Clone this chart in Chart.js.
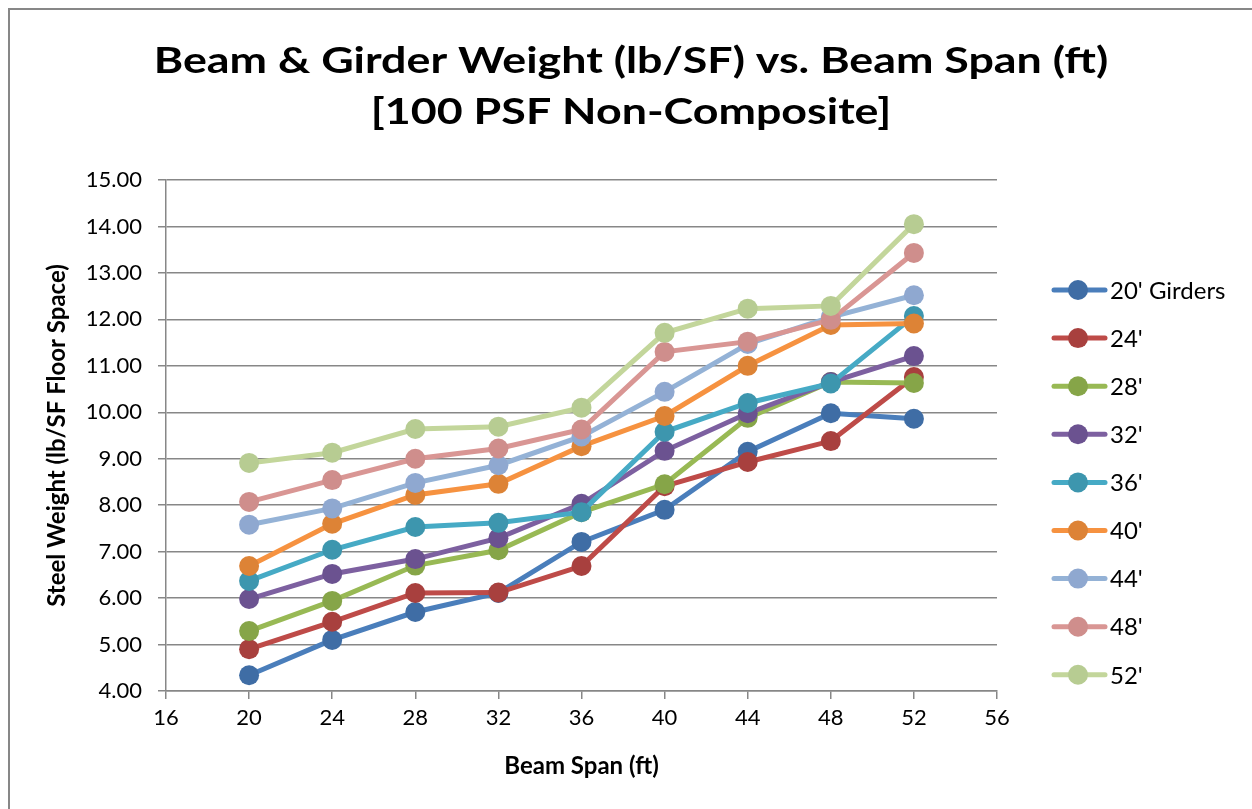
<!DOCTYPE html>
<html>
<head>
<meta charset="utf-8">
<script src="https://cdn.jsdelivr.net/npm/chart.js@4/dist/chart.umd.min.js"></script>
<style>
  html, body { margin: 0; padding: 0; background: #fff; }
  #wrap { position: relative; width: 1252px; height: 809px; }
</style>
</head>
<body>
<div id="wrap"><canvas id="grafico"></canvas></div>
<script>
// ---------- DADOS ----------
const vaos = [20, 24, 28, 32, 36, 40, 44, 48, 52];
const rotulos = ["20' Girders", "24'", "28'", "32'", "36'", "40'", "44'", "48'", "52'"];

const viga20 = [4.34, 5.10, 5.70, 6.11, 7.21, 7.90, 9.15, 9.98, 9.86];
const viga24 = [4.90, 5.49, 6.11, 6.12, 6.69, 8.41, 8.93, 9.38, 10.76];
const viga28 = [5.29, 5.94, 6.70, 7.03, 7.85, 8.45, 9.88, 10.65, 10.63];
const viga32 = [5.98, 6.52, 6.84, 7.29, 8.03, 9.17, 9.98, 10.65, 11.21];
const viga36 = [6.37, 7.04, 7.53, 7.62, 7.85, 9.58, 10.20, 10.62, 12.07];
const viga40 = [6.69, 7.60, 8.22, 8.46, 9.27, 9.92, 11.00, 11.88, 11.91];
const viga44 = [7.58, 7.93, 8.48, 8.86, 9.48, 10.44, 11.47, 12.05, 12.52];
const viga48 = [8.07, 8.54, 9.00, 9.22, 9.63, 11.30, 11.52, 11.99, 13.43];
const viga52 = [8.91, 9.13, 9.64, 9.69, 10.10, 11.71, 12.23, 12.29, 14.05];

const series = [viga20, viga24, viga28, viga32, viga36, viga40, viga44, viga48, viga52];

// cor da linha / cor do marcador
const coresLinha = ["#4A7EBB", "#BE4B48", "#98B954", "#7D60A0", "#46AAC5", "#F69240", "#94B2D6", "#D99694", "#C3D69B"];
const coresPonto = ["#3F6DA5", "#A8403E", "#86A548", "#6B5290", "#3D96AE", "#DD8336", "#8FA8D0", "#CF8E8C", "#B7CC92"];

const CINZA = "#878787";
const FONTE = "Lato, 'Open Sans', sans-serif";

// ---------- DATASETS ----------
const datasets = series.map((valores, i) => ({
  label: rotulos[i],
  data: vaos.map((x, j) => ({ x: x, y: valores[j] })),
  borderColor: coresLinha[i],
  backgroundColor: coresPonto[i],
  pointBackgroundColor: coresPonto[i],
  pointBorderColor: coresPonto[i],
  borderWidth: 5,
  pointRadius: 10,
  pointBorderWidth: 0,
  tension: 0,
  order: series.length - i // ultima serie fica por cima
}));

// ---------- TITULO, MOLDURA E LEGENDA ----------
const extras = {
  id: "extras",
  afterDraw(chart) {
    const ctx = chart.ctx;
    ctx.save();

    // moldura da area do grafico
    ctx.strokeStyle = CINZA;
    ctx.lineWidth = 2;
    ctx.beginPath();
    ctx.moveTo(9, 809);
    ctx.lineTo(9, 9);
    ctx.lineTo(1252, 9);
    ctx.stroke();

    // titulo (um pouco esticado na horizontal)
    ctx.save();
    ctx.translate(631, 0);
    ctx.scale(1.21, 1);
    ctx.fillStyle = "#000";
    ctx.textAlign = "center";
    ctx.textBaseline = "alphabetic";
    ctx.font = "bold 37px " + FONTE;
    ctx.fillText("Beam & Girder Weight (lb/SF) vs. Beam Span (ft)", 0, 73);
    ctx.fillText("[100 PSF Non-Composite]", 0, 124);
    ctx.restore();

    // legenda
    ctx.textAlign = "left";
    ctx.textBaseline = "middle";
    ctx.font = "24px " + FONTE;
    chart.data.datasets.forEach((ds, i) => {
      const y = 290 + i * 48.1;
      ctx.strokeStyle = ds.borderColor;
      ctx.lineWidth = 5;
      ctx.lineCap = "round";
      ctx.beginPath();
      ctx.moveTo(1054, y);
      ctx.lineTo(1105, y);
      ctx.stroke();
      ctx.fillStyle = ds.pointBackgroundColor;
      ctx.beginPath();
      ctx.arc(1078, y, 10, 0, Math.PI * 2);
      ctx.fill();
      ctx.fillStyle = "#000";
      ctx.fillText(ds.label, 1110, y + 1);
    });

    ctx.restore();
  }
};

// ---------- GRAFICO ----------
const ctx = document.getElementById("grafico").getContext("2d");
window.grafico = new Chart(ctx, {
  type: "line",
  data: { datasets: datasets },
  plugins: [extras],
  options: {
    responsive: true,
    maintainAspectRatio: false,
    animation: false,
    layout: { padding: { top: 180, right: 255, left: 0, bottom: 0 } },
    plugins: {
      legend: { display: false },
      title: { display: false },
      tooltip: { enabled: false }
    },
    scales: {
      x: {
        type: "linear",
        min: 16,
        max: 56,
        afterFit: s => { s.height = 118; },
        ticks: {
          stepSize: 4,
          color: "#000",
          padding: 6,
          font: { family: FONTE, size: 22 }
        },
        grid: { drawOnChartArea: false, drawTicks: true, tickLength: 8, color: CINZA, lineWidth: 1.5 },
        border: { color: CINZA, width: 1.5 },
        title: {
          display: true,
          text: "Beam Span (ft)",
          color: "#000",
          font: { family: FONTE, size: 24, weight: "bold" },
          padding: { top: 0, bottom: 28 }
        }
      },
      y: {
        min: 4,
        max: 15,
        afterFit: s => { s.width = 166; },
        ticks: {
          stepSize: 1,
          color: "#000",
          padding: 16,
          font: { family: FONTE, size: 22 },
          callback: v => v.toFixed(2)
        },
        grid: { color: CINZA, lineWidth: 1.5, tickLength: 8 },
        border: { color: CINZA, width: 1.5 },
        title: {
          display: true,
          text: "Steel Weight (lb/SF Floor Space)",
          color: "#000",
          font: { family: FONTE, size: 24, weight: "bold" },
          padding: { top: 43, bottom: 0 }
        }
      }
    }
  }
});
</script>
</body>
</html>
